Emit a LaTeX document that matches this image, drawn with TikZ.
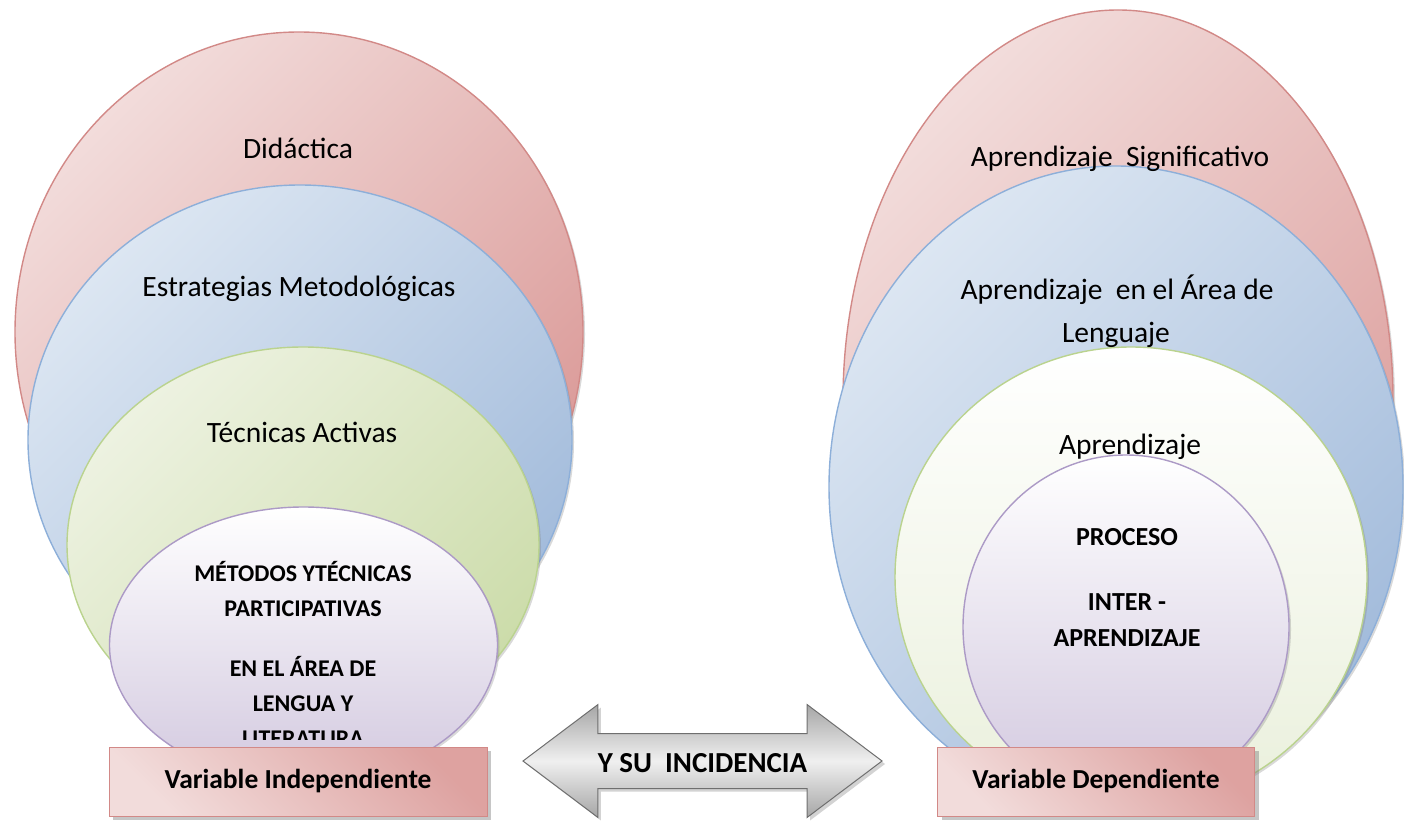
\documentclass[tikz,border=0pt]{standalone}
\usepackage{fontspec}
\setmainfont{Carlito}
\usetikzlibrary{shapes.geometric,shapes.arrows,shadows}
\definecolor{rojoA}{HTML}{F2DCDB}
\definecolor{rojoB}{HTML}{DA9896}
\definecolor{rojoL}{HTML}{D28987}
\definecolor{azulA}{HTML}{DCE6F2}
\definecolor{azulB}{HTML}{A2BBDB}
\definecolor{azulL}{HTML}{8DAFD9}
\definecolor{verdeA}{HTML}{EDF2E1}
\definecolor{verdeB}{HTML}{CCDCAA}
\definecolor{verdeL}{HTML}{BAD38E}
\definecolor{moradoB}{HTML}{D2C8DF}
\definecolor{moradoL}{HTML}{AC9AC6}
\definecolor{grisL}{HTML}{6F6F6F}

\begin{document}
\begin{tikzpicture}[x=1pt,y=-1pt]
\tikzset{elipse/.style={draw, ellipse, line width=1.4pt, inner sep=0pt,
    drop shadow={shadow xshift=2pt, shadow yshift=-2pt, opacity=0.3}},
  rojo/.style={elipse, draw=rojoL, top color=rojoA, bottom color=rojoB, shading angle=45},
  azul/.style={elipse, draw=azulL, top color=azulA, bottom color=azulB, shading angle=45},
  verde/.style={elipse, draw=verdeL, top color=verdeA, bottom color=verdeB, shading angle=45},
  verdeclaro/.style={elipse, draw=verdeL, top color=white, bottom color=verdeA!90!verdeB},
  morado/.style={elipse, draw=moradoL, top color=white, bottom color=moradoB},
  texto/.style={anchor=base, font=\fontsize{29.5}{35}\selectfont},
  negrita/.style={align=center, inner sep=0pt},
  caja/.style={draw=rojoL, line width=1pt, top color=rojoB!85!rojoA, bottom color=rojoA,
    shading angle=-45, minimum height=69pt, font=\fontsize{27.5}{32}\selectfont\bfseries,
    drop shadow={shadow xshift=4pt, shadow yshift=-4pt, opacity=0.45}},
  flecha/.style={double arrow, draw=grisL, line width=1pt, top color=gray!70,
    bottom color=gray!70, middle color=gray!12, minimum height=359pt, minimum width=112pt,
    double arrow head extend=29pt, double arrow tip angle=74, text height=22pt,
    text depth=0pt, inner ysep=16pt, font=\fontsize{29}{34}\selectfont\bfseries,
    drop shadow={shadow xshift=3pt, shadow yshift=-3pt, opacity=0.35}}}
\useasboundingbox (0,0) rectangle (1404,821);
\clip (0,0) rectangle (1404,821);
\node[rojo, minimum width=568pt, minimum height=600pt] (E1) at (299,332) {};
\node[azul, minimum width=544pt, minimum height=510pt] (E2) at (300,440) {};
\node[verde, minimum width=472pt, minimum height=396pt] (E3) at (303,545) {};
\node[morado, minimum width=388pt, minimum height=276pt] (E4) at (303.5,645) {};
\node[texto] (T1) at (298,159) {Didáctica};
\node[texto] (T2) at (299,296) {Estrategias Metodológicas};
\node[texto] (T3) at (302,442) {Técnicas Activas};
\begin{scope}
\clip (0,0) rectangle (1404,739);
\node[negrita, font=\fontsize{24}{35}\selectfont\bfseries] (T4) at (303,654)
  {MÉTODOS YTÉCNICAS\\PARTICIPATIVAS\\[25pt]EN EL ÁREA DE\\LENGUA Y\\LITERATURA};
\end{scope}
\node[rojo, minimum width=550pt, minimum height=780pt] (E5) at (1118,400) {};
\node[azul, minimum width=574pt, minimum height=642pt] (E6) at (1116,487) {};
\node[verdeclaro, minimum width=472pt, minimum height=460pt] (E7) at (1131,577) {};
\node[morado, minimum width=326pt, minimum height=344pt] (E8) at (1126,627) {};
\node[texto] (T5) at (1120,167) {Aprendizaje\ \ Significativo};
\node[texto] (T6) at (1117,299) {Aprendizaje\ \ en el Área de};
\node[texto] (T7) at (1116,342) {Lenguaje};
\node[texto] (T8) at (1130,454) {Aprendizaje};
\node[negrita, font=\fontsize{26}{36}\selectfont\bfseries] (T9) at (1127,588)
  {PROCESO\\[29pt]INTER -\\APRENDIZAJE};
\node[caja, minimum width=378pt] (C1) at (298,781.5) {Variable Independiente};
\node[caja, minimum width=317pt] (C2) at (1096,781.5) {Variable Dependiente};
\node[flecha] (F) at (702.5,761) {Y SU\ \ INCIDENCIA};
\end{tikzpicture}
\end{document}
